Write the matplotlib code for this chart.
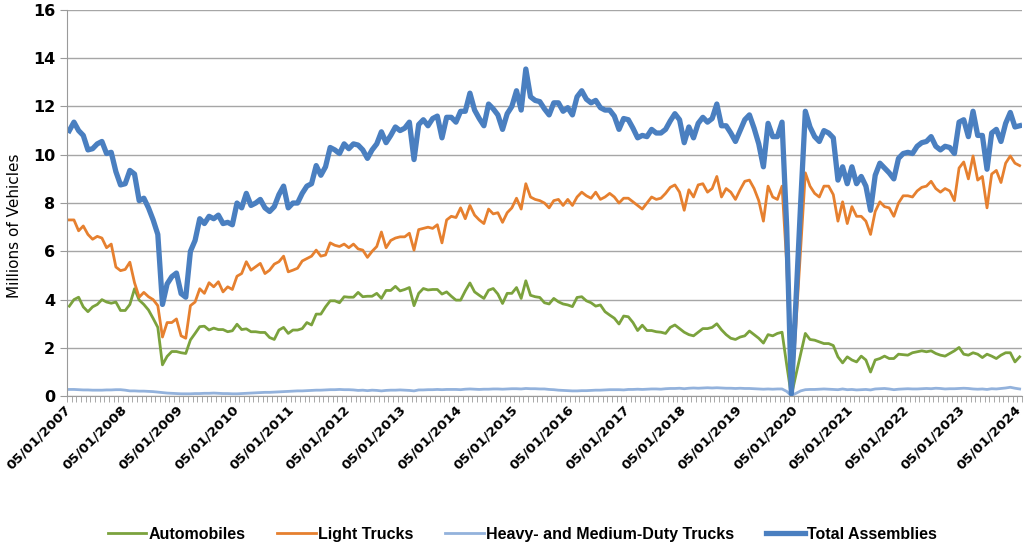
import matplotlib
matplotlib.use("Agg")
import matplotlib.pyplot as plt
import matplotlib.transforms as mtransforms
import numpy as np

# monthly assemblies, May 2007 .. May 2024 (millions of vehicles, SAAR)
automobiles = [
    3.73, 4.0, 4.1, 3.7, 3.5, 3.7, 3.8, 4.0, 3.9, 3.85,
    3.9, 3.55, 3.55, 3.8, 4.45, 3.98, 3.8, 3.57, 3.22, 2.85,
    1.3, 1.65, 1.85, 1.85, 1.8, 1.77, 2.33, 2.6, 2.88, 2.9,
    2.74, 2.82, 2.76, 2.76, 2.67, 2.71, 2.98, 2.76, 2.79, 2.67,
    2.67, 2.64, 2.64, 2.43, 2.35, 2.74, 2.85, 2.6, 2.74, 2.74,
    2.8, 3.05, 2.95, 3.4, 3.4, 3.7, 3.95, 3.95, 3.87, 4.12,
    4.1, 4.1, 4.3, 4.12, 4.14, 4.14, 4.26, 4.05, 4.38, 4.38,
    4.55, 4.36, 4.42, 4.5, 3.75, 4.26, 4.46, 4.4, 4.42, 4.42,
    4.23, 4.32, 4.14, 3.98, 3.98, 4.36, 4.69, 4.32, 4.18, 4.05,
    4.39, 4.46, 4.23, 3.84, 4.26, 4.26, 4.5, 4.05, 4.78, 4.18,
    4.12, 4.09, 3.87, 3.82, 4.05, 3.91, 3.82, 3.78, 3.71, 4.09,
    4.12, 3.95, 3.87, 3.73, 3.78, 3.5, 3.36, 3.23, 2.99, 3.32,
    3.29, 3.05, 2.72, 2.94, 2.72, 2.72, 2.67, 2.65, 2.6, 2.85,
    2.95, 2.8, 2.65, 2.55, 2.5, 2.65, 2.8, 2.8, 2.85, 3.0,
    2.75, 2.55, 2.4, 2.35, 2.45, 2.5, 2.7, 2.55, 2.4, 2.2,
    2.55, 2.5, 2.6, 2.65, 1.3, 0.02, 0.9, 1.75, 2.6, 2.35,
    2.32, 2.25, 2.18, 2.18, 2.1, 1.63, 1.38, 1.63, 1.5, 1.42,
    1.66, 1.5, 1.0, 1.5, 1.56, 1.66, 1.56, 1.56, 1.74, 1.72,
    1.7, 1.8, 1.84, 1.88, 1.84, 1.88, 1.77, 1.7, 1.66, 1.77,
    1.88, 2.02, 1.74, 1.7, 1.8, 1.74, 1.6, 1.74, 1.66, 1.56,
    1.7, 1.8, 1.8, 1.42, 1.63,
]
light_trucks = [
    7.3, 7.3, 6.85, 7.05, 6.7, 6.5, 6.62, 6.55, 6.15, 6.3,
    5.35, 5.2, 5.25, 5.55, 4.7, 4.1, 4.3, 4.12, 4.0, 3.75,
    2.45, 3.05, 3.05, 3.2, 2.5, 2.4, 3.75, 3.9, 4.45, 4.26,
    4.7, 4.53, 4.74, 4.32, 4.53, 4.42, 4.97, 5.08, 5.57, 5.22,
    5.36, 5.5, 5.08, 5.22, 5.47, 5.57, 5.8, 5.15, 5.22, 5.3,
    5.6, 5.7, 5.8, 6.05, 5.8, 5.85, 6.35, 6.25, 6.2, 6.3,
    6.15, 6.3, 6.1, 6.05, 5.75, 6.0, 6.2, 6.8, 6.15, 6.45,
    6.55, 6.6, 6.6, 6.75, 6.05, 6.9, 6.95, 7.0, 6.95, 7.1,
    6.35, 7.3, 7.45, 7.4, 7.8, 7.35, 7.9, 7.5, 7.3, 7.15,
    7.75, 7.55, 7.6, 7.2, 7.6, 7.8, 8.2, 7.75, 8.8, 8.25,
    8.15, 8.1, 8.0, 7.8, 8.1, 8.15, 7.9, 8.15, 7.9, 8.25,
    8.45, 8.3, 8.2, 8.45, 8.15, 8.25, 8.4, 8.25, 8.0, 8.2,
    8.2, 8.05, 7.9, 7.75, 8.0, 8.25, 8.15, 8.2, 8.4, 8.65,
    8.75, 8.45, 7.7, 8.55, 8.25, 8.75, 8.8, 8.45, 8.6, 9.1,
    8.25, 8.6, 8.45, 8.15, 8.55, 8.9, 8.95, 8.6, 8.1, 7.25,
    8.7, 8.25, 8.15, 8.7, 5.5, 0.05, 3.0, 6.1, 9.25, 8.7,
    8.4, 8.25, 8.7, 8.7, 8.35, 7.25, 8.05, 7.15, 7.85, 7.45,
    7.45, 7.25, 6.7, 7.65, 8.05, 7.85, 7.8, 7.45, 8.0, 8.3,
    8.3, 8.25, 8.5, 8.65, 8.7, 8.9, 8.6, 8.45, 8.6, 8.5,
    8.1, 9.45, 9.7, 9.0, 9.95, 8.95, 9.1, 7.8, 9.2, 9.35,
    8.85, 9.65, 9.95, 9.65, 9.55,
]
heavy_trucks = [
    0.28, 0.28, 0.27, 0.26, 0.26, 0.25, 0.25, 0.25, 0.26, 0.26,
    0.27, 0.27, 0.25, 0.22, 0.22, 0.21, 0.21, 0.2, 0.19, 0.17,
    0.15, 0.13, 0.12, 0.11, 0.1, 0.1, 0.1, 0.11, 0.11, 0.12,
    0.12, 0.13, 0.12, 0.11, 0.11, 0.1, 0.1, 0.11, 0.12, 0.13,
    0.14, 0.15, 0.16, 0.16, 0.17, 0.18, 0.19, 0.2, 0.21, 0.22,
    0.22, 0.23, 0.24, 0.25, 0.25, 0.26, 0.27, 0.27, 0.28, 0.27,
    0.27, 0.26, 0.24, 0.25, 0.23, 0.25, 0.24, 0.22, 0.24, 0.25,
    0.25, 0.26, 0.25, 0.24, 0.22, 0.26, 0.26, 0.27, 0.27, 0.28,
    0.27, 0.28, 0.28, 0.28, 0.27, 0.29, 0.3, 0.29, 0.28, 0.29,
    0.29, 0.3, 0.3, 0.29, 0.3, 0.31, 0.31, 0.3, 0.32, 0.31,
    0.31, 0.3, 0.3, 0.28, 0.27, 0.25, 0.24, 0.23, 0.22, 0.22,
    0.23, 0.23, 0.24, 0.25, 0.25, 0.26, 0.27, 0.27, 0.27, 0.26,
    0.28, 0.28, 0.29, 0.28, 0.29, 0.3, 0.3, 0.29, 0.31, 0.32,
    0.32, 0.33, 0.31, 0.33, 0.34, 0.33, 0.34, 0.35, 0.34, 0.35,
    0.34, 0.33, 0.33, 0.32, 0.33, 0.32, 0.32, 0.31, 0.3, 0.29,
    0.3, 0.29, 0.3, 0.3, 0.2, 0.02, 0.12, 0.22, 0.27, 0.28,
    0.28, 0.29, 0.3, 0.29, 0.28, 0.27, 0.3, 0.27, 0.28, 0.26,
    0.27, 0.28, 0.26, 0.3, 0.31, 0.32, 0.3, 0.27, 0.29, 0.3,
    0.31, 0.3, 0.3, 0.31, 0.32, 0.31, 0.33, 0.32, 0.3, 0.31,
    0.31, 0.32, 0.33, 0.32, 0.3, 0.29, 0.3, 0.28, 0.31, 0.3,
    0.32, 0.34, 0.37, 0.33, 0.3,
]
total_assemblies = [
    11.0, 11.35, 11.0, 10.8, 10.2, 10.25, 10.45, 10.55, 10.05, 10.1,
    9.3, 8.75, 8.8, 9.35, 9.2, 8.1, 8.2, 7.8, 7.3, 6.7,
    3.8, 4.65, 4.95, 5.1, 4.25, 4.1, 6.0, 6.45, 7.35, 7.15,
    7.45, 7.35, 7.5, 7.15, 7.2, 7.1, 8.0, 7.8, 8.4, 7.9,
    8.0, 8.15, 7.8, 7.65, 7.85, 8.35, 8.7, 7.8, 8.0, 8.0,
    8.4, 8.7, 8.8, 9.55, 9.15, 9.5, 10.3, 10.2, 10.05, 10.45,
    10.25, 10.45, 10.4, 10.2, 9.85, 10.2, 10.45, 10.95, 10.5, 10.8,
    11.15, 11.0, 11.1, 11.35, 9.8, 11.25, 11.45, 11.2, 11.5, 11.6,
    10.7, 11.55, 11.55, 11.35, 11.8, 11.8, 12.55, 11.85, 11.5, 11.2,
    12.1, 11.9, 11.65, 11.05, 11.7, 12.0, 12.65, 11.85, 13.55, 12.4,
    12.25, 12.2, 11.9, 11.65, 12.15, 12.15, 11.8, 11.95, 11.65, 12.4,
    12.65, 12.3, 12.15, 12.25, 11.95, 11.85, 11.85, 11.6, 11.05, 11.5,
    11.45, 11.1, 10.7, 10.8, 10.75, 11.05, 10.9, 10.9, 11.05, 11.4,
    11.7, 11.45, 10.5, 11.15, 10.7, 11.3, 11.55, 11.35, 11.5, 12.1,
    11.2, 11.2, 10.9, 10.55, 11.0, 11.45, 11.65, 11.1, 10.45, 9.5,
    11.3, 10.75, 10.75, 11.35, 7.0, 0.1, 4.0, 8.0, 11.8, 11.15,
    10.75, 10.55, 11.0, 10.9, 10.7, 8.95, 9.5, 8.8, 9.5, 8.8,
    9.1, 8.7, 7.7, 9.15, 9.65, 9.45, 9.25, 9.0, 9.85, 10.05,
    10.1, 10.05, 10.35, 10.5, 10.55, 10.75, 10.35, 10.2, 10.35, 10.3,
    10.05, 11.35, 11.45, 10.75, 11.8, 10.8, 10.8, 9.4, 10.9, 11.05,
    10.55, 11.3, 11.75, 11.15, 11.2,
]
tick_labels = ["05/01/%d" % y for y in range(2007, 2025)]

months = np.arange(len(total_assemblies))

fig = plt.figure(figsize=(10.24, 5.48), dpi=100)
ax = fig.add_axes([0.0654, 0.277, 0.9326, 0.705])

ax.plot(months, automobiles, color="#7BA23D", lw=2.0, label="Automobiles")
ax.plot(months, light_trucks, color="#E6802F", lw=2.0, label="Light Trucks")
ax.plot(months, heavy_trucks, color="#93B2DC", lw=2.0, label="Heavy- and Medium-Duty Trucks")
ax.plot(months, total_assemblies, color="#4A7FC0", lw=3.8, label="Total Assemblies")

ax.set_ylim(0, 16)
ax.set_yticks(range(0, 17, 2))
ax.set_yticklabels([str(v) for v in range(0, 17, 2)], fontsize=11.5, fontweight="bold")
ax.set_ylabel("Millions of Vehicles", fontsize=11)
ax.yaxis.set_label_coords(-0.047, 0.44)

# small tick at every month boundary, date labels every 12 months
ax.set_xticks(np.arange(-0.5, len(months), 1), minor=True)
ax.set_xticks([])
ax.tick_params(axis="x", which="minor", length=4, color="#9a9a9a", direction="out")
ax.tick_params(axis="y", length=5, color="#9a9a9a")
ax.set_xlim(-0.5, len(months) - 0.5)

lbl_trans = mtransforms.blended_transform_factory(ax.transData, ax.transAxes) + \
    mtransforms.ScaledTranslation(-0.03, -0.07, fig.dpi_scale_trans)
for pos, lbl in zip(months[::12] - 0.5, tick_labels):
    ax.text(pos, 0, lbl, transform=lbl_trans, rotation=45, ha="right", va="top",
            rotation_mode="anchor", fontsize=9.7, fontweight="bold")

ax.grid(axis="y", color="#a6a6a6", lw=1.0)
ax.set_axisbelow(True)
for s in ["top", "right"]:
    ax.spines[s].set_visible(False)
ax.spines["left"].set_color("#9a9a9a")
ax.spines["bottom"].set_color("#9a9a9a")

fig.legend(loc="lower center", bbox_to_anchor=(0.51, -0.015), ncol=4, frameon=False,
           prop={"family": ["Liberation Sans", "DejaVu Sans"], "weight": "bold", "size": 11.5},
           handlelength=2.4, columnspacing=2.0, handletextpad=0.15)

plt.savefig("out.png", dpi=100)
